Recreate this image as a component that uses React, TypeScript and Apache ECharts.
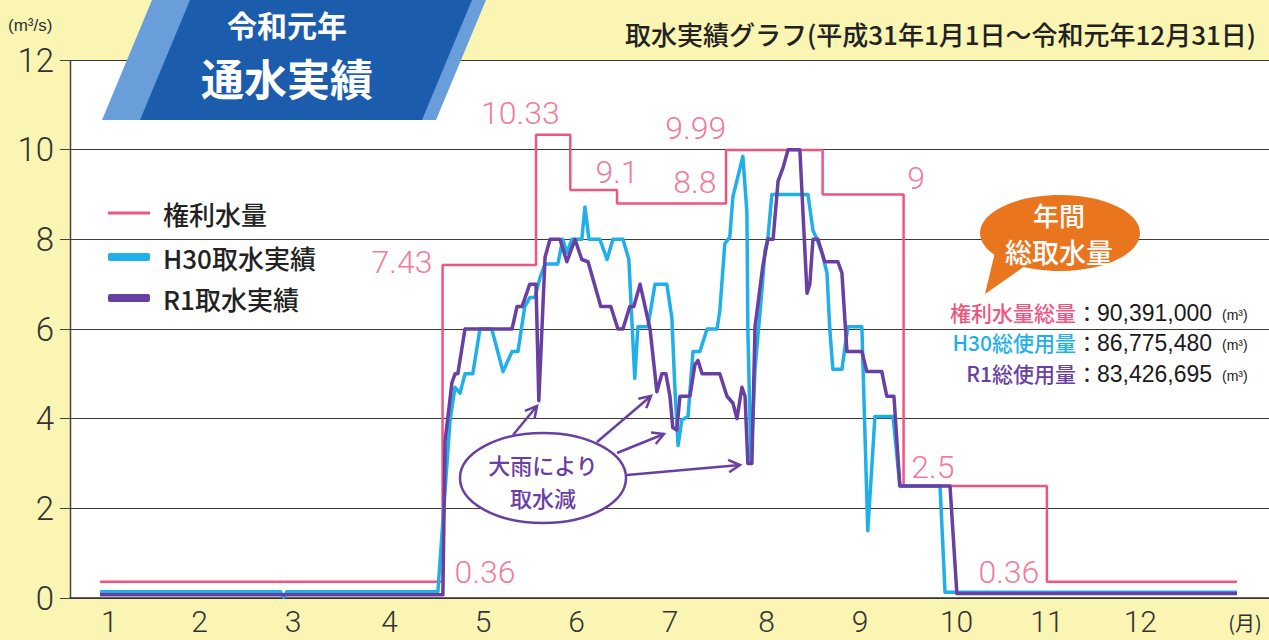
import React, { useEffect, useRef } from "react";
import * as echarts from "echarts";

// ---- data (x = day of year, 0 = Jan 1; y = m3/s) ----
const monthLabels = ["1", "2", "3", "4", "5", "6", "7", "8", "9", "10", "11", "12"];
const monthLabelDays = [3, 32, 62, 93, 123, 153, 183, 214, 244, 275, 304, 334];

const rightsChangeDays = [0, 110, 140, 151, 166, 201, 232, 258, 304, 365];
const rightsValues = [0.36, 7.43, 10.33, 9.1, 8.8, 9.99, 9, 2.5, 0.36];

const h30Series: [number, number][] = [
  [0, 0.14], [58, 0.14], [59, 0.02], [60, 0.14], [108.5, 0.14],
  [112.4, 3.97], [114.0, 4.7], [115.6, 4.57], [117.2, 5.0], [119.7, 5.0],
  [122.0, 6.0], [125.8, 6.0], [129.4, 5.05], [132.3, 5.5], [134.2, 5.5],
  [136.4, 6.5], [138.0, 6.7], [139.6, 6.7], [141.3, 7.15], [142.9, 7.45],
  [147.0, 7.45], [148.6, 8.0], [149.9, 7.7], [151.5, 8.0], [154.7, 8.0],
  [155.7, 8.72], [157.0, 8.0], [160.5, 8.0], [162.8, 7.55], [164.7, 8.0],
  [167.9, 8.0], [169.8, 7.55], [171.7, 4.9], [172.7, 6.05], [175.9, 6.05],
  [178.2, 7.0], [182.0, 7.0], [183.6, 6.25], [184.6, 4.65], [185.6, 3.4],
  [186.8, 3.97], [188.8, 4.05], [190.4, 5.5], [192.6, 5.5], [194.9, 6.0],
  [198.1, 6.0], [199.0, 6.4], [200.6, 7.9], [202.2, 8.05], [203.2, 8.95],
  [204.8, 9.4], [206.4, 9.85], [207.7, 8.6], [208.0, 6.0], [209.0, 3.0],
  [210.3, 5.1], [212.5, 6.85], [213.5, 7.75], [214.4, 8.0], [215.7, 9.0],
  [227.3, 9.0], [228.9, 8.2], [230.2, 8.0], [231.8, 7.7], [233.4, 7.25],
  [234.3, 6.0], [235.3, 5.1], [238.2, 5.1], [240.1, 6.05], [244.6, 6.05],
  [246.5, 1.5], [248.8, 4.05], [254.6, 4.05], [256.8, 2.5], [269.7, 2.5],
  [271.3, 0.13], [365, 0.13],
];

const r1Series: [number, number][] = [
  [0, 0.07], [110.1, 0.07], [110.8, 3.5], [113.0, 4.8], [114.0, 5.0],
  [114.9, 5.0], [117.2, 6.0], [132.3, 6.0], [133.9, 6.5], [135.5, 6.5],
  [138.0, 7.0], [140.0, 7.0], [140.9, 4.4], [142.9, 7.6], [144.5, 8.0],
  [147.7, 8.0], [149.9, 7.5], [152.5, 8.0], [154.7, 7.55], [156.7, 7.5],
  [160.8, 6.5], [164.0, 6.5], [166.3, 6.0], [167.9, 6.0], [170.1, 6.5],
  [171.4, 6.5], [173.4, 7.0], [176.6, 6.0], [178.8, 4.6], [180.4, 5.0],
  [181.7, 5.0], [183.0, 4.5], [183.9, 3.8], [185.2, 3.75], [186.2, 4.5],
  [189.4, 4.5], [191.0, 5.2], [192.0, 5.3], [193.3, 5.0], [199.0, 5.0],
  [201.3, 4.5], [203.2, 4.35], [204.5, 4.0], [206.1, 4.7], [207.1, 4.5],
  [208.0, 3.0], [209.3, 3.0], [210.3, 6.05], [212.8, 7.4], [214.4, 8.0],
  [216.1, 8.0], [217.7, 9.3], [219.3, 9.6], [220.9, 10.0], [224.7, 10.0],
  [225.7, 8.6], [227.0, 6.8], [227.9, 7.0], [228.9, 8.0], [230.5, 8.0],
  [232.7, 7.5], [236.9, 7.5], [238.2, 7.25], [239.8, 5.5], [244.6, 5.5],
  [246.2, 5.05], [251.0, 5.05], [252.6, 4.5], [254.9, 4.5], [256.8, 2.5],
  [272.9, 2.5], [275.1, 0.1], [365, 0.1],
];

// value labels of the rights line: [day, value, text]
const rightsLabels: [number, number, string][] = [
  [97, 7.5, "7.43"],
  [135, 10.82, "10.33"],
  [166, 9.5, "9.1"],
  [191, 9.28, "8.8"],
  [191.3, 10.48, "9.99"],
  [262, 9.37, "9"],
  [267.4, 2.92, "2.5"],
  [123.6, 0.58, "0.36"],
  [291.8, 0.58, "0.36"],
];

const seriesNames = ["権利水量", "H30取水実績", "R1取水実績"];
const totalsLabels = ["権利水量総量", "H30総使用量", "R1総使用量"];
const totalsValues = ["90,391,000", "86,775,480", "83,426,695"];

// ---- styles ----
const PINK = "#f0557f";
const BLUE = "#1fb0ea";
const PURPLE = "#6a3fa2";
const BG = "#faf5b2";
const JP = "'Noto Sans CJK JP', 'Noto Sans', sans-serif";
const NUM = "'Liberation Sans', 'Noto Sans', sans-serif";
const THIN = "Roboto, 'Liberation Sans', sans-serif";

function buildSteps(days: number[], vals: number[]): [number, number][] {
  const out: [number, number][] = [];
  for (let i = 0; i < vals.length; i++) {
    out.push([days[i], vals[i]]);
    out.push([days[i + 1], vals[i]]);
  }
  return out;
}

const arrows: [number, number][][] = [
  [[513, 435], [537, 406]],
  [[597, 442], [651, 396]],
  [[617, 453], [664, 434]],
  [[627, 475], [740, 465]],
];

function arrowElements() {
  const els: any[] = [];
  arrows.forEach(([a, b]) => {
    els.push({
      type: "line",
      z: 50,
      shape: { x1: a[0], y1: a[1], x2: b[0], y2: b[1] },
      style: { stroke: PURPLE, lineWidth: 2.5 },
    });
    const ang = Math.atan2(b[1] - a[1], b[0] - a[0]);
    const L = 13;
    const s = 0.5;
    const p1 = [b[0] - L * Math.cos(ang - s), b[1] - L * Math.sin(ang - s)];
    const p2 = [b[0] - L * Math.cos(ang + s), b[1] - L * Math.sin(ang + s)];
    els.push({
      type: "polyline",
      z: 50,
      shape: { points: [p1, b, p2] },
      style: { stroke: PURPLE, lineWidth: 2.5, fill: null },
    });
  });
  return els;
}

function buildOption() {
  const legendCommon = {
    left: 108,
    padding: 0,
    itemWidth: 42,
    selectedMode: false,
    itemStyle: { borderWidth: 0 },
    textStyle: {
      fontSize: 26,
      color: "#222",
      fontFamily: JP,
      fontWeight: 500,
      lineHeight: 30,
      padding: [0, 0, 0, 8],
    },
  };
  const totalsColors = [PINK, BLUE, PURPLE];
  const totalsY = [312, 342, 373];
  const totalsEls: any[] = [];
  totalsLabels.forEach((t, i) => {
    totalsEls.push({
      type: "text", z: 60, x: 1076, y: totalsY[i],
      style: { text: t, fill: totalsColors[i], fontSize: 21, lineHeight: 21, fontFamily: JP, fontWeight: 500, align: "right", verticalAlign: "middle" },
    });
    totalsEls.push({
      type: "text", z: 60, x: 1087, y: totalsY[i],
      style: { text: "：", fill: "#222", fontSize: 21, lineHeight: 21, fontFamily: JP, align: "center", verticalAlign: "middle" },
    });
    totalsEls.push({
      type: "text", z: 60, x: 1097, y: totalsY[i] + 1,
      style: { text: totalsValues[i], fill: "#1a1a1a", fontSize: 23, lineHeight: 23, fontFamily: NUM, align: "left", verticalAlign: "middle" },
    });
    totalsEls.push({
      type: "text", z: 60, x: 1222, y: totalsY[i] + 3,
      style: { text: "(m³)", fill: "#1a1a1a", fontSize: 14, lineHeight: 14, fontFamily: NUM, align: "left", verticalAlign: "middle" },
    });
  });

  return {
    animation: false,
    backgroundColor: BG,
    textStyle: { fontFamily: JP },
    grid: {
      left: 70, right: 0, top: 60, bottom: 42,
      show: true, backgroundColor: "#ffffff", borderWidth: 0,
    },
    legend: [
      { ...legendCommon, top: 198, itemHeight: 3, data: [{ name: seriesNames[0], icon: "rect" }] },
      { ...legendCommon, top: 242, itemHeight: 8, data: [{ name: seriesNames[1], icon: "roundRect" }] },
      { ...legendCommon, top: 283, itemHeight: 8, data: [{ name: seriesNames[2], icon: "roundRect" }] },
    ],
    xAxis: {
      type: "value",
      min: -9.6,
      max: 375.3,
      axisLine: { show: true, onZero: false, lineStyle: { color: "#333", width: 1.5 } },
      axisTick: { show: false },
      splitLine: { show: false },
      axisLabel: {
        customValues: monthLabelDays,
        formatter: (v: number) => {
          const i = monthLabelDays.indexOf(v);
          return i >= 0 ? monthLabels[i] : "";
        },
        fontSize: 30,
        lineHeight: 30,
        color: "#333",
        margin: 8,
        fontFamily: THIN,
        fontWeight: 300,
      },
    },
    yAxis: {
      type: "value",
      position: "left",
      min: 0,
      max: 12,
      interval: 2,
      axisLine: { show: false, onZero: false },
      axisTick: { show: true, length: 10, lineStyle: { color: "#444", width: 1 } },
      splitLine: { show: true, lineStyle: { color: "#3a3a3a", width: 1 } },
      axisLabel: { fontSize: 33, color: "#333", margin: 16, fontFamily: THIN, fontWeight: 300 },
    },
    series: [
      {
        name: seriesNames[0], type: "line", data: buildSteps(rightsChangeDays, rightsValues),
        symbol: "none", lineStyle: { color: PINK, width: 2.5 }, itemStyle: { color: PINK }, z: 3,
      },
      {
        name: seriesNames[1], type: "line", data: h30Series,
        symbol: "none", lineStyle: { color: BLUE, width: 3.5, join: "round" }, itemStyle: { color: BLUE }, z: 4,
      },
      {
        name: seriesNames[2], type: "line", data: r1Series,
        symbol: "none", lineStyle: { color: PURPLE, width: 3.5, join: "round" }, itemStyle: { color: PURPLE }, z: 5,
      },
      {
        name: "rightsLabels", type: "scatter", silent: true, z: 6,
        symbolSize: 1, itemStyle: { color: "rgba(0,0,0,0)" },
        data: rightsLabels.map(([d, v, t]) => ({ value: [d, v], name: t })),
        label: {
          show: true, position: "inside", formatter: (p: any) => p.name,
          color: PINK, fontSize: 32, fontFamily: THIN, fontWeight: 300,
        },
      },
    ],
    graphic: [
      // y axis line
      { type: "line", z: 10, shape: { x1: 70.5, y1: 60, x2: 70.5, y2: 598 }, style: { stroke: "#444", lineWidth: 1.5 } },
      // title box
      { type: "polygon", z: 100, shape: { points: [[152, 0], [486, 0], [436, 120], [102, 120]] }, style: { fill: "#6a9edb" } },
      { type: "polygon", z: 101, shape: { points: [[190, 0], [472, 0], [422, 120], [140, 120]] }, style: { fill: "#1c5cad" } },
      { type: "text", z: 102, x: 287, y: 24, style: { text: "令和元年", fill: "#fff", fontSize: 30, lineHeight: 30, fontWeight: "bold", fontFamily: JP, align: "center", verticalAlign: "middle" } },
      { type: "text", z: 102, x: 287, y: 77, style: { text: "通水実績", fill: "#fff", fontSize: 43, lineHeight: 43, fontWeight: "bold", fontFamily: JP, align: "center", verticalAlign: "middle" } },
      // top-right title
      { type: "text", z: 60, x: 625, y: 33, style: { text: "取水実績グラフ(平成31年1月1日〜令和元年12月31日)", fill: "#222", fontSize: 26, fontFamily: JP, fontWeight: 500, align: "left", verticalAlign: "middle" } },
      // units
      { type: "text", z: 60, x: 8, y: 25, style: { text: "(m³/s)", fill: "#333", fontSize: 17, fontFamily: NUM, align: "left", verticalAlign: "middle" } },
      { type: "text", z: 60, x: 1245, y: 622, style: { text: "(月)", fill: "#333", fontSize: 20, fontFamily: JP, align: "center", verticalAlign: "middle" } },
      // rain annotation
      { type: "ellipse", z: 50, shape: { cx: 543, cy: 478, rx: 83, ry: 45 }, style: { fill: "#fff", stroke: PURPLE, lineWidth: 2.5 } },
      { type: "text", z: 51, x: 543, y: 464, style: { text: "大雨により", fill: PURPLE, fontSize: 22, lineHeight: 22, fontWeight: 500, fontFamily: JP, align: "center", verticalAlign: "middle" } },
      { type: "text", z: 51, x: 543, y: 497, style: { text: "取水減", fill: PURPLE, fontSize: 22, lineHeight: 22, fontWeight: 500, fontFamily: JP, align: "center", verticalAlign: "middle" } },
      ...arrowElements(),
      // bubble
      { type: "polygon", z: 55, shape: { points: [[996, 248], [1028, 264], [985, 294]] }, style: { fill: "#e9761f" } },
      { type: "ellipse", z: 56, shape: { cx: 1060, cy: 233, rx: 80, ry: 38 }, style: { fill: "#e9761f" } },
      { type: "text", z: 57, x: 1059, y: 214, style: { text: "年間", fill: "#fff", fontSize: 26, lineHeight: 26, fontWeight: 500, fontFamily: JP, align: "center", verticalAlign: "middle" } },
      { type: "text", z: 57, x: 1059, y: 251, style: { text: "総取水量", fill: "#fff", fontSize: 27, lineHeight: 27, fontWeight: 500, fontFamily: JP, align: "center", verticalAlign: "middle" } },
      ...totalsEls,
    ],
  };
}

export default function App() {
  const ref = useRef<HTMLDivElement>(null);
  useEffect(() => {
    if (!ref.current) return;
    const chart = echarts.init(ref.current, null, { renderer: "svg" });
    chart.setOption(buildOption() as any);
    return () => chart.dispose();
  }, []);
  return (
    <div
      ref={ref}
      style={{ position: "fixed", left: 0, top: 0, width: 1269, height: 640, background: BG }}
    />
  );
}
